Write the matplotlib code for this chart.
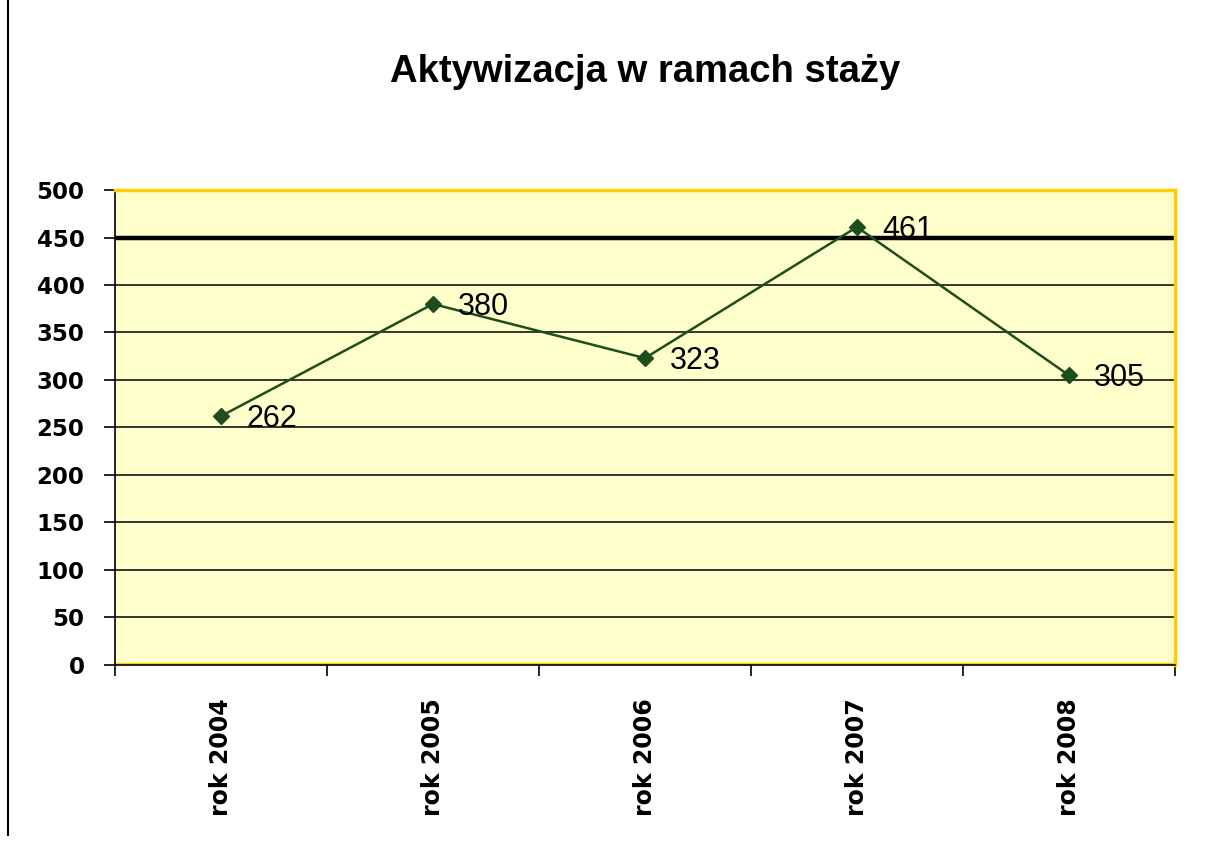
import matplotlib.pyplot as plt
import numpy as np
from matplotlib.lines import Line2D

# Data
years = ['rok 2004', 'rok 2005', 'rok 2006', 'rok 2007', 'rok 2008']
values = [262, 380, 323, 461, 305]
yticks = list(range(0, 501, 50))

fig = plt.figure(figsize=(12.21, 8.43), dpi=100)
ax = fig.add_axes([0.0942, 0.2112, 0.868, 0.5634])
ax.set_facecolor('#FFFFCC')

x = np.arange(len(years))
ax.set_xlim(-0.5, len(years) - 0.5)
ax.set_ylim(0, 500)

# Gridlines (450 drawn heavier, like the reference)
for v in yticks[1:-1]:
    ax.axhline(v, color='black', lw=3.2 if v == 450 else 1.1, zorder=1)

ax.plot(x, values, color='#1E4D1E', lw=1.8, marker='D', markersize=8.5, zorder=3)
for xi, v in zip(x, values):
    ax.annotate(str(v), (xi, v), xytext=(18, -2), textcoords='offset points',
                ha='left', va='center', fontsize=22, family='Liberation Sans', zorder=4)

# Spines
for s in ['top', 'right']:
    ax.spines[s].set_color('#FFCC00')
    ax.spines[s].set_linewidth(2.5)
ax.spines['left'].set_color('black')
ax.spines['left'].set_linewidth(1.2)
ax.spines['bottom'].set_color('black')
ax.spines['bottom'].set_linewidth(1.2)
ax.axhline(1.5, color='#FFCC00', lw=2.5, zorder=2)

ax.set_yticks(yticks)
ax.set_yticklabels([str(v) for v in yticks], fontsize=16.5, fontweight='bold')
ax.tick_params(axis='y', direction='out', length=8, width=1.2, pad=14)

ax.set_xticks(x)
ax.set_xticklabels(years, rotation=90, fontsize=17, fontweight='bold')
ax.tick_params(axis='x', which='major', length=0, pad=24)
ax.set_xticks(np.arange(-0.5, len(years), 1.0), minor=True)
ax.tick_params(axis='x', which='minor', direction='out', length=8, width=1.2)

fig.text(0.528, 0.914, 'Aktywizacja w ramach staży', ha='center', va='center',
         fontsize=27.5, fontweight='bold', family='Liberation Sans')

# Left vertical rule
fig.add_artist(Line2D([8 / 1221, 8 / 1221], [1 - 835 / 843, 1.0], color='black', lw=1.5,
                      transform=fig.transFigure))

plt.savefig('out.png', dpi=100)
